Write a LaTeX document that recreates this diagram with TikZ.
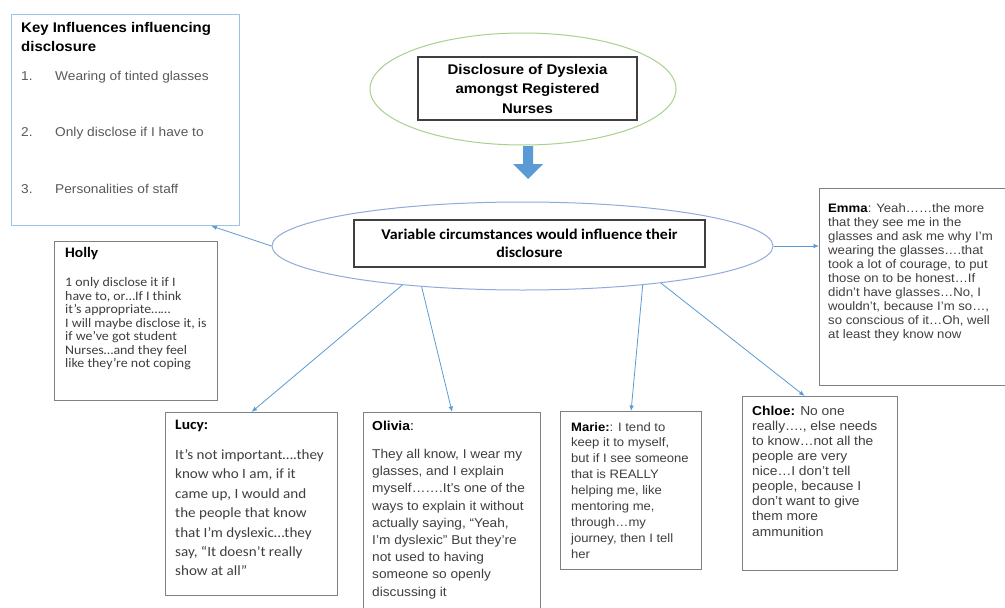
\documentclass[tikz,border=0pt]{standalone}
\usepackage{fontspec}
\setmainfont{Liberation Sans}[FakeStretch=1.07]
\newfontfamily\calfont{Carlito}[FakeStretch=1.07]
\usetikzlibrary{shapes.geometric,arrows.meta}
\definecolor{keyblue}{HTML}{9DC3E6}
\definecolor{linkblue}{HTML}{5B9BD5}
\definecolor{ellblue}{HTML}{8FAADC}
\definecolor{ellgreen}{HTML}{A9D18E}
\definecolor{boxgray}{HTML}{808080}
\definecolor{darkbox}{HTML}{404040}
\definecolor{txtgray}{HTML}{3F3F3F}
\definecolor{listgray}{HTML}{595959}
\definecolor{arrowblue}{HTML}{5B9BD5}
\tikzset{
  qbox/.style={draw=boxgray, line width=1.2pt, rectangle, inner sep=0pt, anchor=north west},
  tbox/.style={draw=darkbox, line width=1.2pt, rectangle, inner sep=0pt},
  keybox/.style={draw=keyblue, line width=1pt, rectangle, inner sep=0pt, anchor=north west},
  txt/.style={inner sep=0pt, anchor=north west, align=left},
  link/.style={draw=linkblue, line width=0.8pt, -{Latex[length=5.5pt,width=4.5pt]}},
}
\begin{document}
\begin{tikzpicture}[x=1pt,y=-1pt]
\clip (0,0) rectangle (1005,608);
\fill[white] (0,0) rectangle (1005,608);

% key influences box
\node[keybox, minimum width=228, minimum height=211] (key) at (11,14) {};
\node[txt, font=\fontsize{14}{19}\selectfont\bfseries] (keyt) at (21,21.8) {Key Influences influencing\\disclosure};
\node[txt, font=\fontsize{12.8}{56.5}\selectfont, text=listgray] (keyl) at (21,70.7)
  {\makebox[34pt][l]{1.}Wearing of tinted glasses\\\makebox[34pt][l]{2.}Only disclose if I have to\\\makebox[34pt][l]{3.}Personalities of staff};

% top title
\node[ellipse, draw=ellgreen, line width=1pt, minimum width=306, minimum height=112, inner sep=0pt] (green) at (523,89) {};
\node[tbox, minimum width=219, minimum height=63, font=\fontsize{14}{19.5}\selectfont\bfseries, align=center] (title) at (527.5,88.5)
  {Disclosure of Dyslexia\\amongst Registered\\Nurses};

% block arrow
\fill[arrowblue] (523,146) -- (533,146) -- (533,164) -- (543,164) -- (528,179) -- (513,164) -- (523,164) -- cycle;

% central ellipse
\node[ellipse, draw=ellblue, line width=1pt, minimum width=501, minimum height=88, inner sep=0pt] (ell) at (522.5,246) {};
\node[tbox, minimum width=351, minimum height=47, font=\calfont\bfseries\fontsize{14.9}{18}\selectfont, align=center] (vc) at (529.5,243.5)
  {Variable circumstances would influence their\\disclosure};

% Holly
\node[qbox, minimum width=163, minimum height=159] (holly) at (54,241) {};
\node[txt, font=\calfont\bfseries\fontsize{14.5}{16}\selectfont] (hollyh) at (65,247) {Holly};
\node[txt, font=\calfont\fontsize{13}{13.5}\selectfont, text=txtgray] (hollyb) at (65,277.5)
  {1 only disclose it if I\\have to, or…If I think\\it’s appropriate……\\I will maybe disclose it, is\\if we’ve got student\\Nurses…and they feel\\like they’re not coping};

% Lucy
\node[qbox, minimum width=172, minimum height=183] (lucy) at (165,412) {};
\node[txt, font=\calfont\bfseries\fontsize{14.5}{16}\selectfont] (lucyh) at (175,420) {Lucy:};
\node[txt, font=\calfont\fontsize{14.1}{19.4}\selectfont, text=txtgray] (lucyb) at (175,449.4)
  {It’s not important….they\\know who I am, if it\\came up, I would and\\the people that know\\that I’m dyslexic…they\\say, “It doesn’t really\\show at all”};

% Olivia
\node[qbox, minimum width=177, minimum height=230] (olivia) at (363,412) {};
\node[txt, font=\fontsize{13}{16}\selectfont] (oliviah) at (372,420.5) {\textbf{Olivia}:};
\node[txt, font=\fontsize{12.8}{17.2}\selectfont, text=txtgray] (oliviab) at (372,449.1)
  {They all know, I wear my\\glasses, and I explain\\myself…….It’s one of the\\ways to explain it without\\actually saying, “Yeah,\\I’m dyslexic” But they’re\\not used to having\\someone so openly\\discussing it};

% Marie
\node[qbox, minimum width=141, minimum height=158] (marie) at (560,411) {};
\node[txt, font=\fontsize{12.2}{15.9}\selectfont, text=txtgray] (marieb) at (571,422)
  {\textcolor{black}{\textbf{Marie:}}: I tend to\\keep it to myself,\\but if I see someone\\that is REALLY\\helping me, like\\mentoring me,\\through…my\\journey, then I tell\\her};

% Chloe
\node[qbox, minimum width=155, minimum height=174] (chloe) at (742,396) {};
\node[txt, font=\fontsize{12.9}{15.1}\selectfont, text=txtgray] (chloeb) at (752,405.7)
  {\textcolor{black}{\textbf{Chloe:}} No one\\really…., else needs\\to know…not all the\\people are very\\nice…I don’t tell\\people, because I\\don’t want to give\\them more\\ammunition};

% Emma
\node[qbox, minimum width=200, minimum height=197] (emma) at (819,188) {};
\node[txt, font=\fontsize{12.3}{14}\selectfont, text=txtgray] (emmab) at (828,202.9)
  {\textcolor{black}{\textbf{Emma}}: Yeah……the more\\that they see me in the\\glasses and ask me why I’m\\wearing the glasses….that\\took a lot of courage, to put\\those on to be honest…If\\didn’t have glasses…No, I\\wouldn’t, because I’m so…,\\so conscious of it…Oh, well\\at least they know now};

% connectors
\draw[link] (ell.west) -- (key.309.5);
\draw[link] (ell.198) -- (lucy.north);
\draw[link] (ell.202) -- (olivia.north);
\draw[link] (ell.342) -- (marie.north);
\draw[link] (ell.345) -- (chloe.100.7);
\draw[link] (ell.east) -- (ell.east -| emma.west);
\end{tikzpicture}
\end{document}
